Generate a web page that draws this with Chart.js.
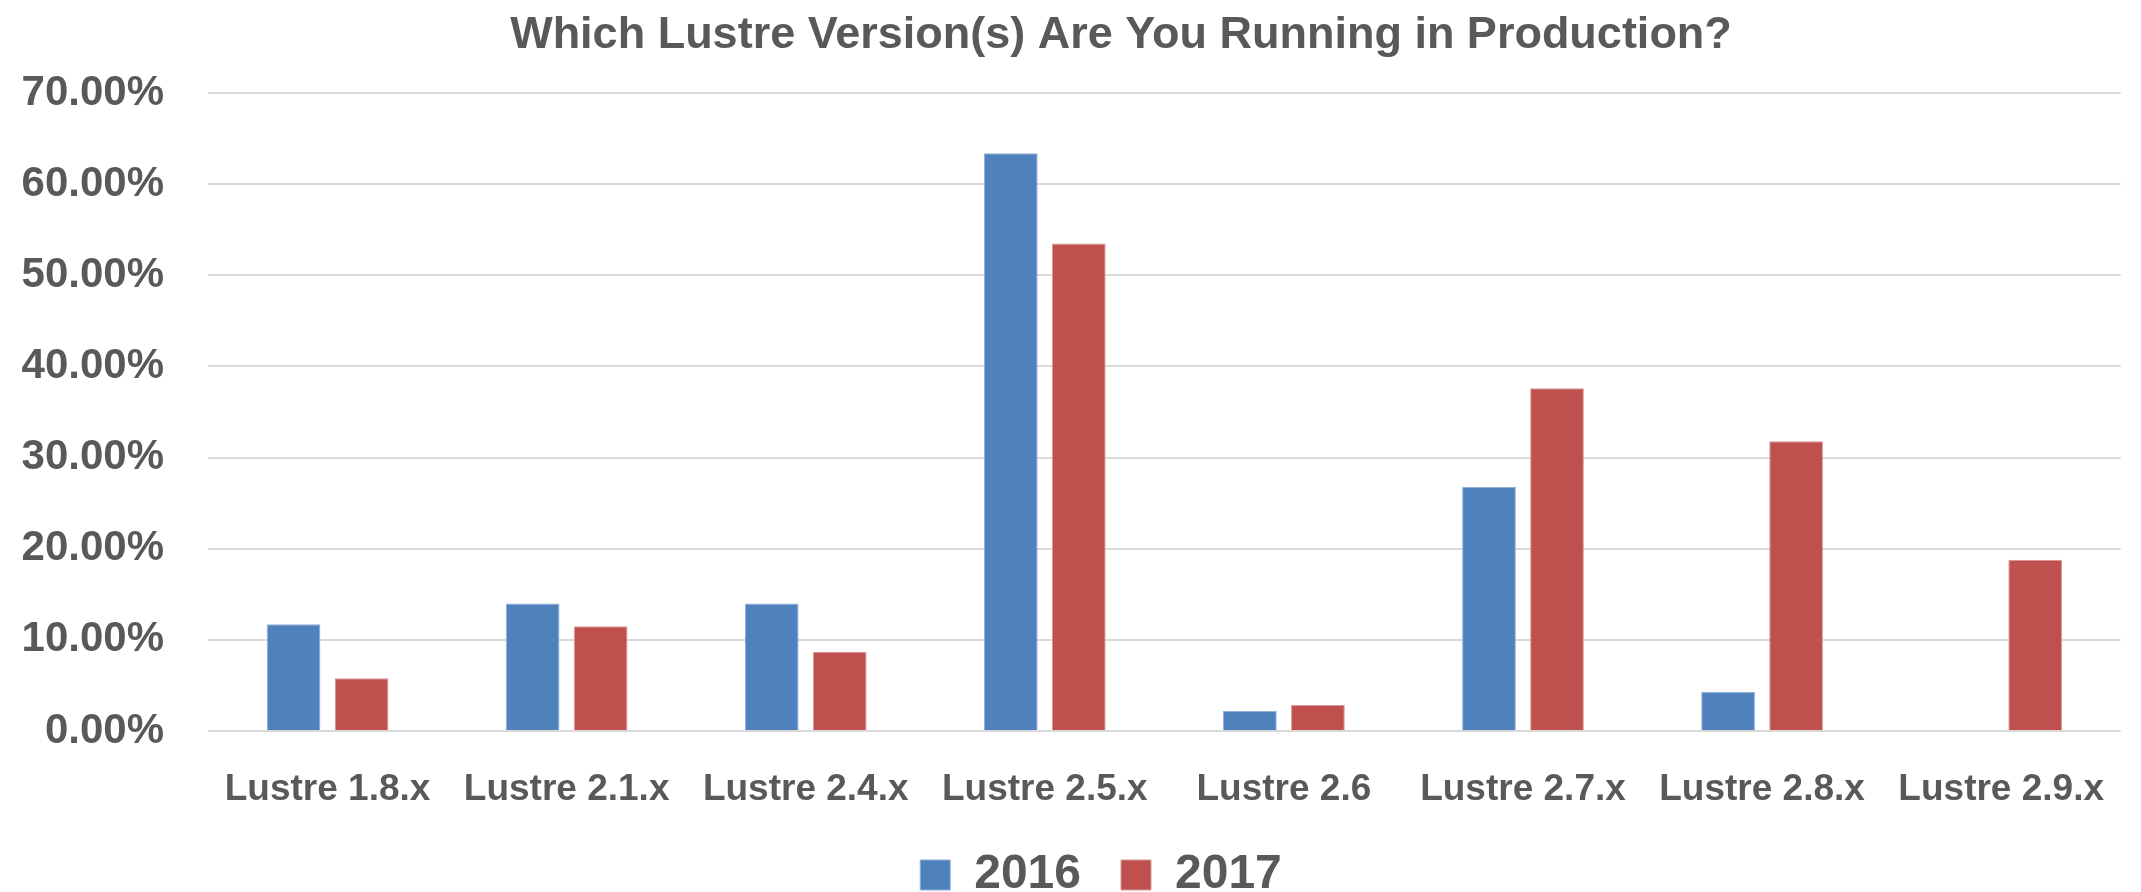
<!DOCTYPE html>
<html>
<head>
<meta charset="utf-8">
<script src="https://cdn.jsdelivr.net/npm/chart.js@4/dist/chart.umd.min.js"></script>
<style>
  html, body { margin: 0; padding: 0; background: #ffffff; }
  #wrap { width: 2141px; height: 892px; position: relative; }
</style>
</head>
<body>
<div id="wrap"><canvas id="c" width="2141" height="892"></canvas></div>
<script>
const categories = ["Lustre 1.8.x", "Lustre 2.1.x", "Lustre 2.4.x", "Lustre 2.5.x", "Lustre 2.6", "Lustre 2.7.x", "Lustre 2.8.x", "Lustre 2.9.x"];
const series2016 = [11.7, 14.0, 14.0, 63.4, 2.2, 26.8, 4.3, null];
const series2017 = [5.8, 11.5, 8.7, 53.5, 2.85, 37.6, 31.8, 18.8];
const seriesNames = ["2016", "2017"];
const yTickValues = [0, 10, 20, 30, 40, 50, 60, 70];
const titleText = "Which Lustre Version(s) Are You Running in Production?";

const textColor = "#595959";
const fontFam = "'Liberation Sans', Arial, sans-serif";

// choose a title font: narrow face if installed, sized to the reference width
const titleTargetWidth = 1226;
const mctx = document.createElement("canvas").getContext("2d");
mctx.font = "bold 100px 'Liberation Sans Narrow', monospace";
const wNarrow = mctx.measureText(titleText).width;
mctx.font = "bold 100px monospace";
const wMono = mctx.measureText(titleText).width;
let titleFam = fontFam, wTitle;
if (Math.abs(wNarrow - wMono) > 1) {
  titleFam = "'Liberation Sans Narrow', 'Liberation Sans', sans-serif";
  wTitle = wNarrow;
} else {
  mctx.font = "bold 100px " + fontFam;
  wTitle = mctx.measureText(titleText).width;
}
const titleSize = Math.round(100 * titleTargetWidth / wTitle);
const titleCenterY = 36;
const plotTopY = 93;
const titlePadTop = Math.max(0, titleCenterY - 0.6 * titleSize);
const titlePadBottom = plotTopY - titlePadTop - 1.2 * titleSize;

// horizontal centring of the title and legend as in the reference
const titleCenterX = 1121;
const legendCenterX = 1101;
const shiftBlocks = {
  id: "shiftBlocks",
  afterLayout(chart) {
    const t = chart.titleBlock;
    if (t) { const d = titleCenterX - (t.left + t.right) / 2; t.left += d; t.right += d; }
    const l = chart.legend;
    if (l) { const d = legendCenterX - (l.left + l.right) / 2; l.left += d; l.right += d; }
  }
};

new Chart(document.getElementById("c"), {
  type: "bar",
  data: {
    labels: categories,
    datasets: [
      { label: seriesNames[0], data: series2016, backgroundColor: "#4F81BD", borderColor: "#8fb0d8", borderWidth: 1,
        categoryPercentage: 0.569, barPercentage: 0.79 },
      { label: seriesNames[1], data: series2017, backgroundColor: "#C0504D", borderColor: "#d99896", borderWidth: 1,
        categoryPercentage: 0.569, barPercentage: 0.79 }
    ]
  },
  plugins: [shiftBlocks],
  options: {
    responsive: false,
    animation: false,
    devicePixelRatio: 1,
    layout: { padding: { left: 20, right: 0, top: 0, bottom: -17 } },
    plugins: {
      tooltip: { enabled: false },
      title: {
        display: true,
        text: titleText,
        color: textColor,
        font: { family: titleFam, size: titleSize, weight: "bold" },
        padding: { top: titlePadTop, bottom: titlePadBottom }
      },
      legend: {
        position: "bottom",
        labels: {
          color: textColor,
          font: { family: fontFam, size: 48, weight: "bold" },
          boxWidth: 30,
          boxHeight: 30,
          padding: 40
        }
      }
    },
    scales: {
      x: {
        grid: { display: false, drawTicks: false },
        border: { display: false },
        afterFit: (s) => { s.height = 80; },
        ticks: {
          color: textColor,
          font: { family: fontFam, size: 37, weight: "bold" },
          padding: 37,
          maxRotation: 0
        }
      },
      y: {
        min: 0,
        max: 70,
        afterBuildTicks: (axis) => { axis.ticks = yTickValues.map(v => ({ value: v })); },
        afterFit: (s) => { s.width = 188; },
        grid: { color: "#d9d9d9", lineWidth: 2, drawTicks: false },
        border: { display: false },
        ticks: {
          color: textColor,
          font: { family: fontFam, size: 42, weight: "bold" },
          padding: 44,
          callback: (v) => Number(v).toFixed(2) + "%"
        }
      }
    }
  }
});
</script>
</body>
</html>
